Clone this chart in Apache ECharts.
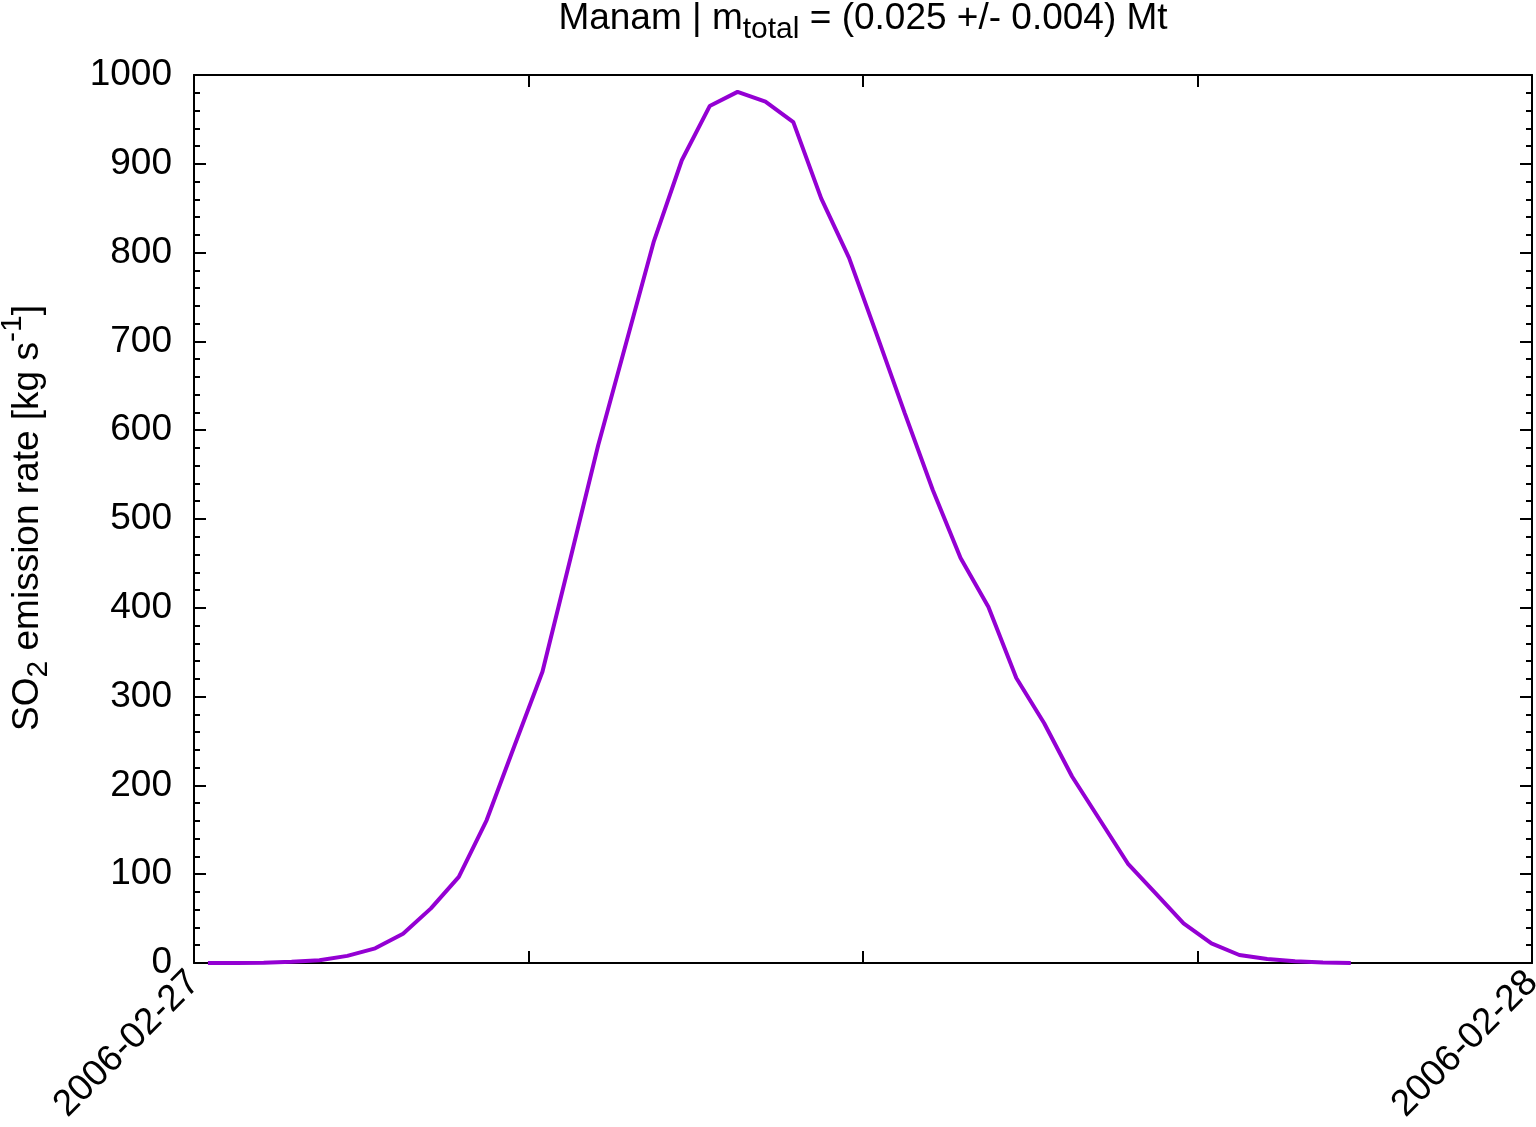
<!DOCTYPE html>
<html>
<head>
<meta charset="utf-8">
<script src="https://cdn.jsdelivr.net/npm/echarts@6/dist/echarts.min.js"></script>
<style>
html,body{margin:0;padding:0;background:#fff;overflow:hidden;}
#chart{width:1536px;height:1127px;}
</style>
</head>
<body>
<div id="chart"></div>
<script>
// Time of each sample on 2006-02-27 (hh:mm)
const times = ['00:15','00:45','01:15','01:45','02:15','02:45','03:15','03:45','04:15','04:45',
  '05:15','05:45','06:15','06:45','07:15','07:45','08:15','08:45','09:15','09:45',
  '10:15','10:45','11:15','11:45','12:15','12:45','13:15','13:45','14:15','14:45',
  '15:15','15:45','16:15','16:45','17:15','17:45','18:15','18:45','19:15','19:45',
  '20:15','20:45'];
// SO2 emission rate [kg/s]
const so2 = [0,0.1,0.3,1.5,3,8,16.5,33,61.5,97,
  161,245,328,455,583,698,813,904,965,981,
  970,947,861,794,707,619,533,456,401,321,
  270,210,161,112,78.5,44.7,22,9,4.5,2,
  0.6,0];
// x tick labels (hours since 2006-02-27 00:00)
const xTickLabels = {0:'2006-02-27', 24:'2006-02-28'};
const yTicks = {min:0, max:1000, step:100};
const titleParts = ['Manam | m', 'total', ' = (0.025 +/- 0.004) Mt'];
const yNameParts = ['SO', '2', ' emission rate [kg s', '-1', ']'];

const FONT = 'Liberation Sans';
const FS = 37;
const toHours = t => { const [h,m] = t.split(':').map(Number); return h + m/60; };
const data = times.map((t,i) => [toHours(t), so2[i]]);

const chart = echarts.init(document.getElementById('chart'));
const axisLine = {show:true, onZero:false, lineStyle:{color:'#000', width:2}};
const tick = {show:true, inside:true, length:12, lineStyle:{color:'#000', width:2}};
const minor = {show:true, splitNumber:5, length:6, lineStyle:{color:'#000', width:2}};

const richBase = {
  n:{fontSize:FS, fontFamily:FONT, color:'#000', lineHeight:44, verticalAlign:'bottom'},
  sub:{fontSize:30, fontFamily:FONT, color:'#000', lineHeight:44, verticalAlign:'bottom', padding:[0,0,-8,0]},
  sup:{fontSize:30, fontFamily:FONT, color:'#000', lineHeight:44, verticalAlign:'top', padding:[-4,0,0,0]}
};

chart.setOption({
  animation:false,
  backgroundColor:'#fff',
  grid:{left:194, right:4, top:75, bottom:164, containLabel:false, outerBoundsMode:'none'},
  graphic:[
    {type:'text', x:863, y:15, style:{
      text:'{n|'+titleParts[0]+'}{sub|'+titleParts[1]+'}{n|'+titleParts[2]+'}',
      rich:richBase, align:'center', verticalAlign:'middle'}},
    {type:'text', x:24, y:518, rotation:Math.PI/2, style:{
      text:'{n|'+yNameParts[0]+'}{sub|'+yNameParts[1]+'}{n|'+yNameParts[2]+'}{sup|'+yNameParts[3]+'}{n|'+yNameParts[4]+'}',
      rich:richBase, align:'center', verticalAlign:'middle'}}
  ],
  xAxis:[
    {type:'value', min:0, max:24, interval:6, position:'bottom',
     axisLine, axisTick:tick, splitLine:{show:false},
     axisLabel:{show:true, rotate:45, margin:14, fontSize:FS, fontFamily:FONT, color:'#000',
       showMinLabel:true, showMaxLabel:true,
       formatter:v => xTickLabels[v] !== undefined ? xTickLabels[v] : ''}},
    {type:'value', min:0, max:24, interval:6, position:'top',
     axisLine, axisTick:tick, splitLine:{show:false}, axisLabel:{show:false}}
  ],
  yAxis:[
    {type:'value', min:yTicks.min, max:yTicks.max, interval:yTicks.step, position:'left',
     axisLine, axisTick:tick, minorTick:minor, splitLine:{show:false},
     axisLabel:{show:true, margin:22, fontSize:FS, fontFamily:FONT, color:'#000',
       formatter:v => String(v)}},
    {type:'value', min:yTicks.min, max:yTicks.max, interval:yTicks.step, position:'right',
     axisLine, axisTick:tick, minorTick:minor, splitLine:{show:false}, axisLabel:{show:false}}
  ],
  series:[{
    type:'line', data:data, showSymbol:false, symbol:'none',
    lineStyle:{color:'#9400d3', width:4}, itemStyle:{color:'#9400d3'}
  }]
});
</script>
</body>
</html>
